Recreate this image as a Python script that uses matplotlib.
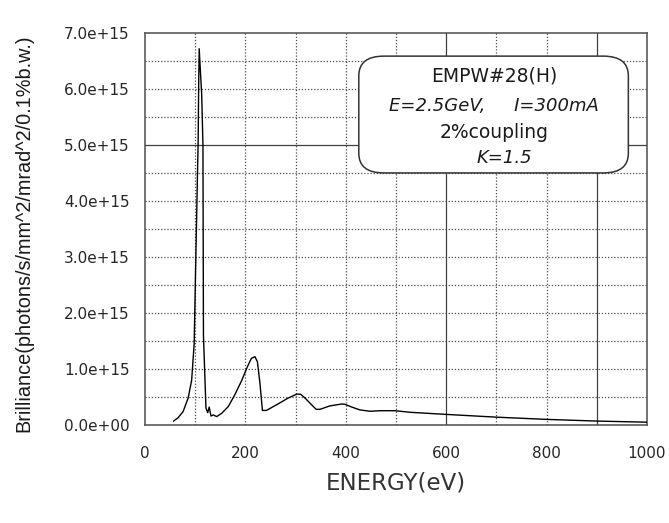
import matplotlib
matplotlib.use('Agg')
import matplotlib.pyplot as plt
from matplotlib.patches import FancyBboxPatch
from matplotlib.ticker import FuncFormatter

plt.rcParams['font.family'] = ['DejaVu Sans']

# spectrum (energy in eV, brilliance in 1e15 units)
energy = [57, 66, 76, 86, 93, 98, 102, 106, 107, 108, 113, 115.5, 116.5, 121.5,
          125, 128, 131.5, 136, 143, 153, 166, 179, 193, 204, 212, 219, 224, 229,
          234, 242, 262, 285, 302, 310, 319, 332, 341, 349, 368, 392, 398, 412,
          428, 448, 468, 498, 528, 598, 700, 800, 900, 1000]
brill = [0.07, 0.13, 0.24, 0.48, 0.80, 1.45, 3.3, 5.1, 6.1, 6.72, 5.9, 5.0, 1.6, 0.30,
         0.22, 0.32, 0.16, 0.18, 0.15, 0.21, 0.33, 0.54, 0.80, 1.04, 1.19, 1.22, 1.13, 0.75,
         0.26, 0.26, 0.36, 0.48, 0.55, 0.55, 0.48, 0.36, 0.28, 0.28, 0.34, 0.375, 0.37, 0.32,
         0.27, 0.245, 0.255, 0.255, 0.227, 0.19, 0.14, 0.10, 0.07, 0.05]
scale = 1e15

xticks = [0, 200, 400, 600, 800, 1000]
yticks = [0, 1, 2, 3, 4, 5, 6, 7]
legend_lines = ['EMPW#28(H)', 'E=2.5GeV,     I=300mA', '2%coupling', 'K=1.5']

fig = plt.figure(figsize=(6.69, 5.23), dpi=100)
ax = fig.add_axes([0.2167, 0.1874, 0.7503, 0.7495])

ax.plot(energy, [b * scale for b in brill], color='k', lw=1.0, zorder=3)

ax.set_xlim(0, 1000)
ax.set_ylim(0, 7 * scale)
ax.set_xticks(xticks)
ax.set_yticks([v * scale for v in yticks])
ax.yaxis.set_major_formatter(FuncFormatter(lambda v, p: f"{v:.1e}"))
ax.tick_params(length=0, labelsize=11, colors='0.15')
ax.tick_params(axis='x', pad=15)
ax.tick_params(axis='y', pad=11)

# dotted grid every 100 eV and every 0.5e15
for xv in range(100, 1000, 100):
    if xv in (600, 900):
        ax.axvline(xv, color='0.25', lw=0.9, zorder=1)
    else:
        ax.axvline(xv, color='0.3', lw=0.9, ls=(0, (1, 1.5)), zorder=1)
for i in range(1, 14):
    yv = i * 0.5 * scale
    if i == 10:
        ax.axhline(yv, color='0.25', lw=0.9, zorder=1)
    else:
        ax.axhline(yv, color='0.3', lw=0.9, ls=(0, (1, 1.5)), zorder=1)

for s in ax.spines.values():
    s.set_color('0.3')
    s.set_linewidth(1.1)

# rounded label box
box = FancyBboxPatch((0.426, 0.643), 0.537, 0.298, boxstyle='round,pad=0,rounding_size=0.05',
                     transform=ax.transAxes, facecolor='white', edgecolor='0.2', lw=1.1, zorder=4)
ax.add_patch(box)
ax.text(0.695, 0.891, legend_lines[0], transform=ax.transAxes, ha='center', va='center',
        fontsize=13.5, color='0.1', zorder=5)
ax.text(0.695, 0.814, legend_lines[1], transform=ax.transAxes, ha='center', va='center',
        fontsize=13, style='italic', color='0.1', zorder=5)
ax.text(0.695, 0.745, legend_lines[2], transform=ax.transAxes, ha='center', va='center',
        fontsize=13.5, color='0.1', zorder=5)
ax.text(0.715, 0.681, legend_lines[3], transform=ax.transAxes, ha='center', va='center',
        fontsize=13, style='italic', color='0.1', zorder=5)

fig.text(24 / 669, 1 - 233 / 523, 'Brilliance(photons/s/mm^2/mrad^2/0.1%b.w.)',
         rotation=90, ha='center', va='center', fontsize=14.3,
         family='Liberation Sans', color='0.1')
fig.text(396 / 669, 1 - 483 / 523, 'ENERGY(eV)', ha='center', va='center',
         fontsize=16.5, color='0.2')

plt.savefig('out.png', dpi=100)
